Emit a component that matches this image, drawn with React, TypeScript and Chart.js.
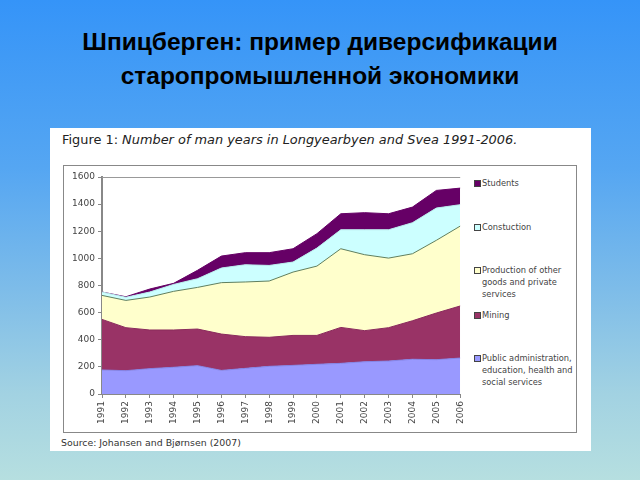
import React, { useEffect, useRef } from "react";
import { Chart, registerables } from "chart.js";

Chart.register(...registerables);

const years = ["1991","1992","1993","1994","1995","1996","1997","1998","1999","2000","2001","2002","2003","2004","2005","2006"];
const publicAdmin = [177,172,187,197,209,174,189,204,211,219,226,238,243,256,253,265];
const mining = [373,317,285,275,270,268,234,214,221,213,265,229,246,284,344,384];
const production = [177,201,243,285,307,379,403,415,467,511,580,560,513,494,536,589];
const construction = [25,23,37,51,64,108,127,115,74,133,140,184,209,229,238,158];
const students = [0,4,22,8,62,88,89,94,98,106,118,126,118,115,130,122];
const yTicks = [0,200,400,600,800,1000,1200,1400,1600];

const legendItems = [
  { label: "Students", color: "#660066", top: 177 },
  { label: "Constuction", color: "#CCFFFF", top: 221 },
  { label: "Production of other goods and private services", color: "#FFFFCC", top: 264 },
  { label: "Mining", color: "#993366", top: 309 },
  { label: "Public administration, education, health and social services", color: "#9999FF", top: 352 },
];

const topBorder = {
  id: "topBorder",
  afterDraw(chart: any) {
    const { ctx, chartArea } = chart;
    ctx.save();
    ctx.strokeStyle = "#999";
    ctx.lineWidth = 1;
    ctx.beginPath();
    ctx.moveTo(chartArea.left, Math.round(chartArea.top) + 0.5);
    ctx.lineTo(chartArea.right, Math.round(chartArea.top) + 0.5);
    ctx.stroke();
    ctx.restore();
  },
};

export default function App() {
  const ref = useRef<HTMLCanvasElement>(null);
  useEffect(() => {
    document.body.style.margin = "0";
    const tickFont = { family: "'DejaVu Sans', Verdana, sans-serif", size: 9 };
    const mk = (label: string, data: number[], bg: string, border: string, fill: any) => ({
      label, data, backgroundColor: bg, borderColor: border, borderWidth: 1,
      fill, pointRadius: 0, tension: 0,
    });
    const chart = new Chart(ref.current!, {
      type: "line",
      data: {
        labels: years,
        datasets: [
          mk("Public administration, education, health and social services", publicAdmin, "#9999FF", "#8484e6", "origin"),
          mk("Mining", mining, "#993366", "#8a2c5c", "-1"),
          mk("Production of other goods and private services", production, "#FFFFCC", "#5f7f5f", "-1"),
          mk("Constuction", construction, "#CCFFFF", "#b8e8ea", "-1"),
          mk("Students", students, "#660066", "#660066", "-1"),
        ],
      },
      options: {
        animation: false,
        responsive: false,
        maintainAspectRatio: false,
        layout: { padding: { top: 11, right: 4, left: 0, bottom: 0 } },
        plugins: { legend: { display: false }, tooltip: { enabled: false }, title: { display: false } },
        scales: {
          x: {
            offset: false,
            stacked: true,
            grid: { display: true, drawOnChartArea: false, color: "#888", tickLength: 4 },
            border: { color: "#888", width: 1 },
            ticks: { font: tickFont, color: "#444", maxRotation: 90, minRotation: 90, padding: 3, autoSkip: false },
            afterFit: (s: any) => { s.height = 38; },
          },
          y: {
            stacked: true,
            min: 0,
            max: 1600,
            afterBuildTicks: (s: any) => { s.ticks = yTicks.map((v) => ({ value: v })); },
            grid: { display: true, drawOnChartArea: false, color: "#888", tickLength: 4 },
            border: { color: "#888", width: 2 },
            ticks: { font: tickFont, color: "#444", padding: 3, callback: (v: any) => String(v) },
            afterFit: (s: any) => { s.width = 38; },
          },
        },
      },
      plugins: [topBorder],
    });
    return () => chart.destroy();
  }, []);

  return (
    <div style={{ position: "fixed", left: 0, top: 0, width: 640, height: 480, overflow: "hidden",
      background: "linear-gradient(to bottom, #3594f8 0%, #55a6f2 35%, #7dbce9 60%, #a2d2e2 82%, #b6dfe0 100%)",
      fontFamily: "'Liberation Sans', Arial, sans-serif" }}>
      <div style={{ position: "absolute", left: 0, width: 640, top: 25, textAlign: "center", fontWeight: "bold",
        fontSize: 24.5, lineHeight: "34px", color: "#000" }}>
        <div>Шпицберген: пример диверсификации</div>
        <div>старопромышленной экономики</div>
      </div>
      <div style={{ position: "absolute", left: 50, top: 128, width: 541, height: 323, background: "#fff" }} />
      <div style={{ position: "absolute", left: 62, top: 132, fontFamily: "'DejaVu Sans', Verdana, sans-serif",
        fontSize: 12.9, color: "#222", whiteSpace: "nowrap" }}>
        Figure 1: <i>Number of man years in Longyearbyen and Svea 1991-2006.</i>
      </div>
      <div style={{ position: "absolute", left: 63, top: 165, width: 514, height: 268, border: "1px solid #888",
        boxSizing: "border-box" }} />
      <canvas ref={ref} width={410} height={266} style={{ position: "absolute", left: 64, top: 166, width: 410, height: 266 }} />
      {legendItems.map((it) => (
        <div key={it.label} style={{ position: "absolute", left: 474, top: it.top, width: 106,
          fontFamily: "'DejaVu Sans Condensed', 'DejaVu Sans', sans-serif", fontSize: 9.2, lineHeight: "12px",
          color: "#444" }}>
          <span style={{ position: "absolute", left: 0, top: 3, width: 5, height: 5, background: it.color,
            border: "1px solid #444" }} />
          <div style={{ marginLeft: 8 }}>{it.label}</div>
        </div>
      ))}
      <div style={{ position: "absolute", left: 61, top: 437, fontFamily: "'DejaVu Sans', Verdana, sans-serif",
        fontSize: 9.4, color: "#333", whiteSpace: "nowrap" }}>
        Source: Johansen and Bjørnsen (2007)
      </div>
    </div>
  );
}
